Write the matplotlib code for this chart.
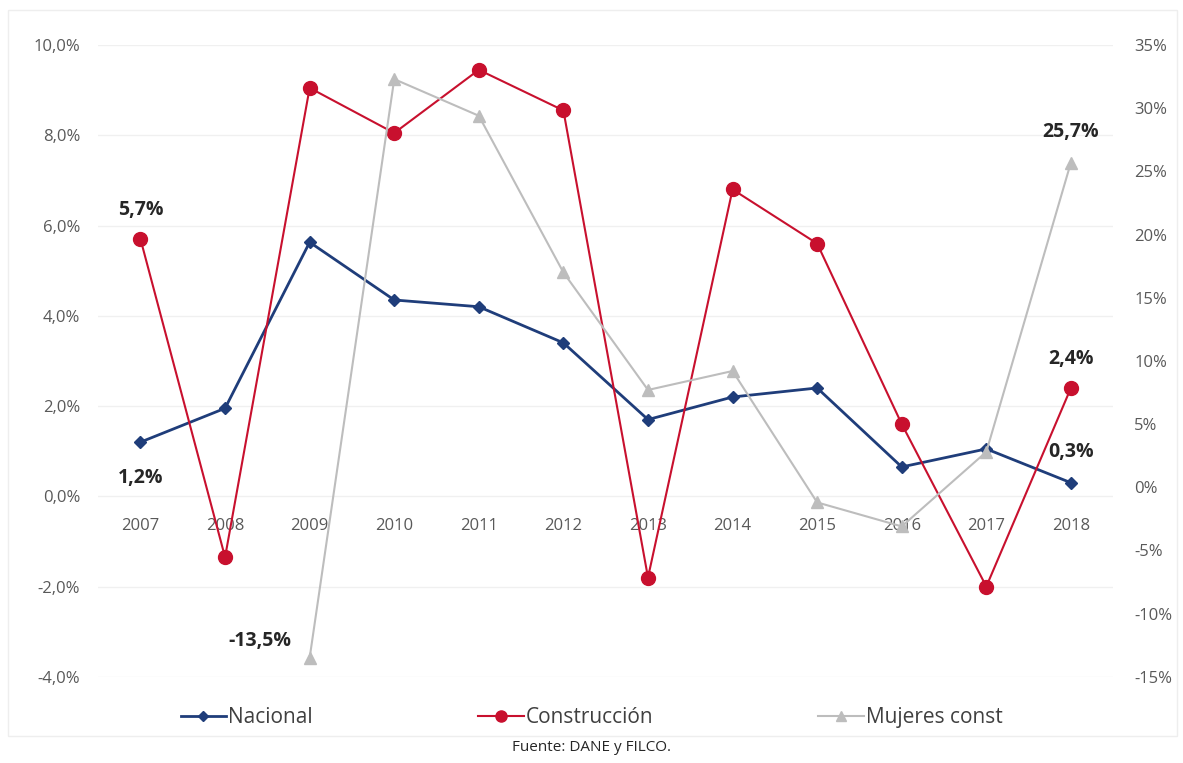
import matplotlib
matplotlib.use("Agg")
import matplotlib.pyplot as plt
from matplotlib.patches import Rectangle
from matplotlib.ticker import FuncFormatter

plt.rcParams["font.family"] = ["Open Sans", "DejaVu Sans"]

years = ["2007", "2008", "2009", "2010", "2011", "2012",
         "2013", "2014", "2015", "2016", "2017", "2018"]
nacional = [1.2, 1.95, 5.63, 4.35, 4.2, 3.4, 1.7, 2.2, 2.4, 0.65, 1.05, 0.3]
construccion = [5.7, -1.35, 9.05, 8.05, 9.45, 8.55, -1.8, 6.8, 5.6, 1.6, -2.0, 2.4]
mujeres_years = years[2:]
mujeres = [-13.5, 32.3, 29.4, 17.0, 7.7, 9.2, -1.2, -3.1, 2.8, 25.7]

left_ticks = [-4, -2, 0, 2, 4, 6, 8, 10]
right_ticks = [-15, -10, -5, 0, 5, 10, 15, 20, 25, 30, 35]

BLUE = "#1f3d7a"
RED = "#c8102e"
GREY = "#bdbdbd"
TICK = "#595959"

fig = plt.figure(figsize=(11.83, 7.63), dpi=100)
fig.patches.append(Rectangle((0.007, 0.035), 0.988, 0.952, transform=fig.transFigure,
                             fill=False, edgecolor="#eeeeee", linewidth=1))
ax = fig.add_axes([0.083, 0.113, 0.858, 0.828])
ax2 = ax.twinx()

x = list(range(len(years)))
xm = [years.index(y) for y in mujeres_years]

ax.plot(x, nacional, color=BLUE, lw=2, marker="D", ms=6.5, label="Nacional", zorder=3)
ax.plot(x, construccion, color=RED, lw=1.5, marker="o", ms=10, label="Construcción", zorder=3)
ax2.plot(xm, mujeres, color=GREY, lw=1.5, marker="^", ms=9, label="Mujeres const", zorder=2)

ax.set_xlim(-0.5, len(years) - 0.5)
ax.set_ylim(-4, 10)
ax2.set_ylim(-15, 35)
ax.set_yticks(left_ticks)
ax2.set_yticks(right_ticks)
ax.yaxis.set_major_formatter(FuncFormatter(lambda v, p: f"{v:.1f}%".replace(".", ",")))
ax2.yaxis.set_major_formatter(FuncFormatter(lambda v, p: f"{v:.0f}%"))

ax.grid(axis="y", color="#f0f0f0", lw=1)
ax.set_axisbelow(True)
for a in (ax, ax2):
    for s in a.spines.values():
        s.set_visible(False)
    a.tick_params(length=0, labelsize=12, labelcolor=TICK)
ax.tick_params(axis="y", pad=13)
ax2.tick_params(axis="y", pad=15)

ax.set_xticks(x)
ax.set_xticklabels([])
for i, y in enumerate(years):
    ax.text(i, -0.66, y, ha="center", va="center", fontsize=12, color=TICK, zorder=1)

bold = dict(fontsize=14, fontweight="bold", color="#262626", ha="center", va="center")
ax.annotate("5,7%", (0, construccion[0]), xytext=(0, 21), textcoords="offset points", **bold)
ax.annotate("1,2%", (0, nacional[0]), xytext=(0, -26), textcoords="offset points", **bold)
ax.annotate("2,4%", (11, construccion[11]), xytext=(0, 21), textcoords="offset points", **bold)
ax.annotate("0,3%", (11, nacional[11]), xytext=(0, 22), textcoords="offset points", **bold)
ax2.annotate("-13,5%", (xm[0], mujeres[0]), xytext=(-36, 12), textcoords="offset points", **bold)
ax2.annotate("25,7%", (xm[-1], mujeres[-1]), xytext=(0, 22), textcoords="offset points", **bold)

handles = ax.get_lines() + ax2.get_lines()
fig.legend(handles, [h.get_label() for h in handles], loc="center", bbox_to_anchor=(0.5, 0.059),
           ncol=3, frameon=False, fontsize=15, columnspacing=7.9, handlelength=2.2,
           handletextpad=0.1, markerscale=0.8, labelcolor="#404040")
fig.text(0.5, 0.02, "Fuente: DANE y FILCO.", ha="center", va="center", fontsize=11, color="#262626")

fig.savefig("out.png", dpi=100)
